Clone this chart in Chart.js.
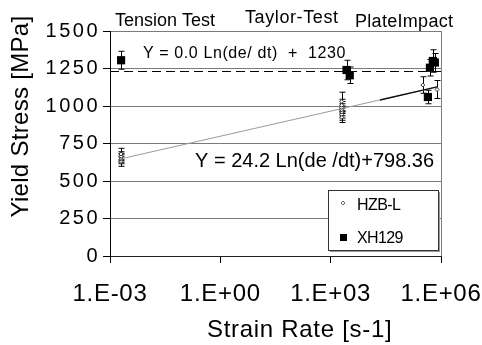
<!DOCTYPE html>
<html>
<head>
<meta charset="utf-8">
<script src="https://cdn.jsdelivr.net/npm/chart.js@4.4.0/dist/chart.umd.min.js"></script>
<style>
  body { margin: 0; background: #fff; }
  canvas { display: block; }
</style>
</head>
<body>
<canvas id="chart" width="482" height="345"></canvas>
<script>
// Data
const seriesNames = ['HZB-L', 'XH129'];
const hzbRate = [0.002, 0.002, 0.002, 0.002, 0.002, 2000, 2000, 2000, 2000, 2000, 2000, 2000, 3.2e5, 7.8e5];
const hzbStress = [630, 645, 655, 665, 680, 925, 945, 960, 975, 990, 1005, 1030, 1140, 1110];
const hzbErr = [32, 30, 30, 30, 38, 35, 40, 40, 40, 40, 40, 62, 55, 60];
const xhRate = [0.002, 2700, 3300, 4.4e5, 5.0e5, 6.0e5, 6.8e5];
const xhStress = [1305, 1240, 1205, 1060, 1255, 1300, 1290];
const xhErr = [60, 65, 55, 45, 55, 75, 60];
// fit lines
const constRate = [1e-3, 1e6];
const constStress = [1230, 1230];
const trendRate = [0.002, 7.8e5];
const trendStress = [648, 1127];
const trendHiRate = [2.2e4, 7.8e5];
const trendHiStress = [1040, 1127];
// axes
const xTickVals = [1e-3, 1e0, 1e3, 1e6];
const xTickLabels = ['1.E-03', '1.E+00', '1.E+03', '1.E+06'];
const yTickVals = [0, 250, 500, 750, 1000, 1250, 1500];

const FONT = '"Liberation Sans", Arial, sans-serif';

function pts(xs, ys) {
  return xs.map((x, i) => ({ x: x, y: ys[i] }));
}

function text(ctx, str, x, y, size, spacing, align) {
  ctx.save();
  ctx.font = size + 'px ' + FONT;
  ctx.fillStyle = '#000';
  ctx.textAlign = align || 'left';
  ctx.textBaseline = 'alphabetic';
  ctx.letterSpacing = (spacing || 0) + 'px';
  ctx.fillText(str, x, y);
  ctx.restore();
}

// error bars, drawn under the markers
const errorBars = {
  id: 'errorBars',
  beforeDatasetsDraw(chart) {
    const ctx = chart.ctx;
    const xs = chart.scales.x, ys = chart.scales.y;
    const sets = [[hzbRate, hzbStress, hzbErr], [xhRate, xhStress, xhErr]];
    ctx.save();
    ctx.strokeStyle = '#000';
    ctx.lineWidth = 1;
    sets.forEach(s => {
      s[0].forEach((r, i) => {
        const px = Math.round(xs.getPixelForValue(r)) + 0.5;
        const top = ys.getPixelForValue(s[1][i] + s[2][i]);
        const bot = ys.getPixelForValue(s[1][i] - s[2][i]);
        ctx.beginPath();
        ctx.moveTo(px, top); ctx.lineTo(px, bot);
        ctx.moveTo(px - 3, top); ctx.lineTo(px + 3, top);
        ctx.moveTo(px - 3, bot); ctx.lineTo(px + 3, bot);
        ctx.stroke();
      });
    });
    ctx.restore();
  }
};

// labels, right border, legend box
const decorations = {
  id: 'decorations',
  beforeDraw(chart) {
    const y = chart.scales.y;
    if (!y._spaced) {
      const orig = y.drawLabels;
      y.drawLabels = function (area) {
        this.ctx.save();
        this.ctx.letterSpacing = '2.5px';
        orig.call(this, area);
        this.ctx.restore();
      };
      y._spaced = true;
    }
    const x = chart.scales.x;
    if (!x._spaced) {
      const origX = x.drawLabels;
      x.drawLabels = function (area) {
        this.ctx.save();
        this.ctx.letterSpacing = '0.7px';
        origX.call(this, area);
        this.ctx.restore();
      };
      x._spaced = true;
    }
  },
  afterDraw(chart) {
    const ctx = chart.ctx;
    const ca = chart.chartArea;

    // right border of plot area
    ctx.save();
    ctx.strokeStyle = '#808080';
    ctx.lineWidth = 1;
    ctx.beginPath();
    ctx.moveTo(Math.round(ca.right) + 0.5, ca.top);
    ctx.lineTo(Math.round(ca.right) + 0.5, ca.bottom);
    ctx.stroke();
    ctx.restore();

    // test-type headers
    text(ctx, 'Tension Test', 115, 26, 18, 0);
    text(ctx, 'Taylor-Test', 245, 23, 18, 0.6);
    text(ctx, 'PlateImpact', 355, 27, 18, 0.3);

    // fit equations
    text(ctx, 'Y = 0.0 Ln(de/ dt)  +  1230', 143, 58, 16, 0.6);
    text(ctx, 'Y = 24.2 Ln(de /dt)+798.36', 195, 167, 20, 0);

    // axis titles
    text(ctx, 'Strain Rate [s-1]', 207, 337, 24, 0.7);
    ctx.save();
    ctx.translate(28, 116.5);
    ctx.rotate(-Math.PI / 2);
    text(ctx, 'Yield Stress [MPa]', 0, 0, 24, 0.3, 'center');
    ctx.restore();

    // legend
    const lx = ca.right - 113, ly = ca.bottom - 66, lw = 110, lh = 60;
    ctx.save();
    ctx.fillStyle = '#9a9a9a';
    ctx.fillRect(lx + 2, ly + 2, lw, lh);
    ctx.fillStyle = '#fff';
    ctx.fillRect(lx, ly, lw, lh);
    ctx.strokeStyle = '#333';
    ctx.lineWidth = 1;
    ctx.strokeRect(lx + 0.5, ly + 0.5, lw, lh);
    // diamond
    const dx = lx + 15, dy = ly + 13;
    ctx.beginPath();
    ctx.moveTo(dx, dy - 2); ctx.lineTo(dx + 2, dy); ctx.lineTo(dx, dy + 2); ctx.lineTo(dx - 2, dy);
    ctx.closePath();
    ctx.strokeStyle = '#666';
    ctx.stroke();
    // square
    ctx.fillStyle = '#000';
    ctx.fillRect(lx + 12, ly + 44, 7, 7);
    ctx.restore();
    text(ctx, seriesNames[0], lx + 29, ly + 20, 16, -0.6);
    text(ctx, seriesNames[1], lx + 29, ly + 53, 16, -0.6);
  }
};

const ctx = document.getElementById('chart').getContext('2d');
const chart = new Chart(ctx, {
  type: 'scatter',
  data: {
    datasets: [
      {
        label: seriesNames[0],
        data: pts(hzbRate, hzbStress),
        pointStyle: 'rectRot',
        pointRadius: 2,
        backgroundColor: '#fff',
        borderColor: '#333',
        borderWidth: 1,
        order: 1
      },
      {
        label: seriesNames[1],
        data: pts(xhRate, xhStress),
        pointStyle: 'rect',
        pointRadius: 5.8,
        backgroundColor: '#000',
        borderColor: '#000',
        borderWidth: 0,
        order: 0
      },
      {
        label: 'const fit',
        data: pts(constRate, constStress),
        showLine: true,
        pointRadius: 0,
        borderColor: '#000',
        borderWidth: 1,
        borderDash: [9, 5],
        order: 3
      },
      {
        label: 'log fit',
        data: pts(trendRate, trendStress),
        showLine: true,
        pointRadius: 0,
        borderColor: '#9a9a9a',
        borderWidth: 1,
        order: 4
      },
      {
        label: 'log fit hi',
        data: pts(trendHiRate, trendHiStress),
        showLine: true,
        pointRadius: 0,
        borderColor: '#111',
        borderWidth: 1.3,
        order: 2
      }
    ]
  },
  options: {
    responsive: false,
    animation: false,
    events: [],
    layout: { padding: { top: 31, right: 41, left: 0, bottom: 0 } },
    plugins: {
      legend: { display: false },
      tooltip: { enabled: false },
      title: { display: false }
    },
    scales: {
      x: {
        type: 'logarithmic',
        min: 1e-3,
        max: 1e6,
        afterBuildTicks(scale) {
          scale.ticks = xTickVals.map(v => ({ value: v }));
        },
        afterFit(scale) {
          scale.height = 89;
          scale.paddingLeft = 0;
          scale.paddingRight = 0;
        },
        ticks: {
          autoSkip: false,
          maxRotation: 0,
          padding: 17,
          color: '#000',
          font: { family: FONT, size: 24 },
          callback: (v) => xTickLabels[xTickVals.indexOf(v)] || ''
        },
        grid: {
          drawOnChartArea: false,
          drawTicks: true,
          tickLength: 7,
          tickColor: '#000'
        },
        border: { display: true, color: '#222', width: 1 }
      },
      y: {
        min: 0,
        max: 1500,
        afterBuildTicks(scale) {
          scale.ticks = yTickVals.map(v => ({ value: v }));
        },
        afterFit(scale) { scale.width = 110; },
        ticks: {
          padding: 3,
          color: '#000',
          font: { family: FONT, size: 20 },
          callback: (v) => String(v)
        },
        grid: {
          color: '#7a7a7a',
          tickColor: '#000',
          tickLength: 7,
          drawTicks: true
        },
        border: { display: true, color: '#000', width: 1 }
      }
    }
  },
  plugins: [errorBars, decorations]
});
</script>
</body>
</html>
